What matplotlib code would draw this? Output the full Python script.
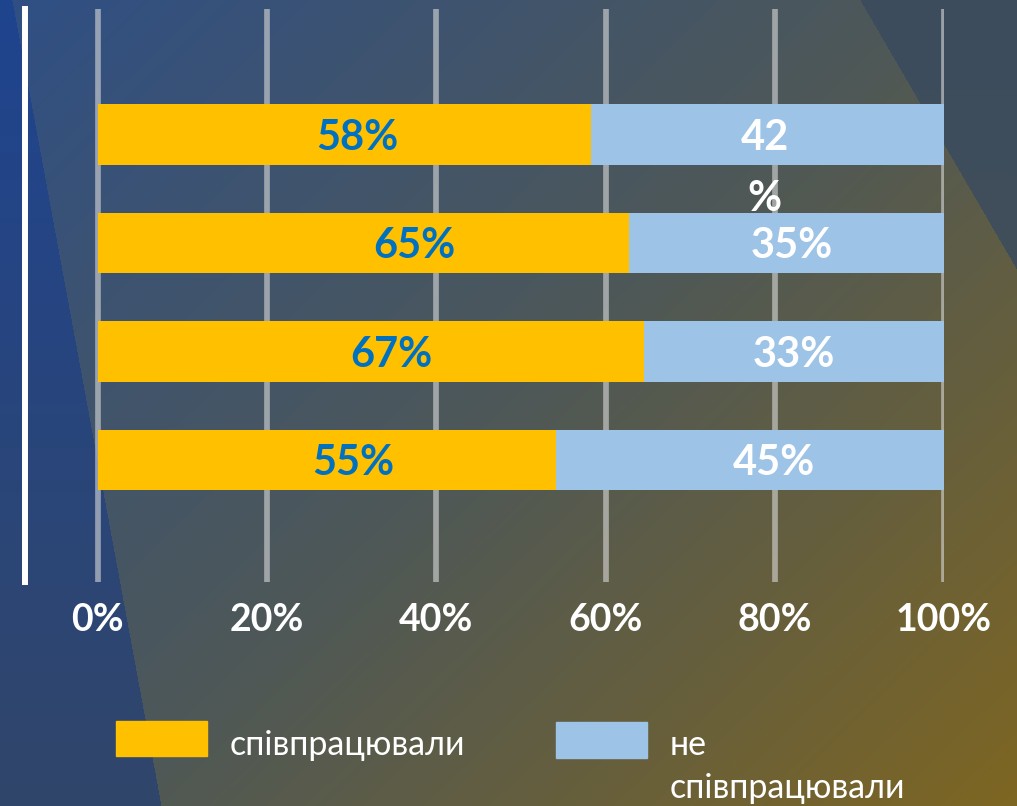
import numpy as np
import matplotlib
matplotlib.use("Agg")
import matplotlib.pyplot as plt
from matplotlib.patches import Rectangle

# ---------------- data ----------------
categories = ["1", "2", "3", "4"]                      # four survey rows (top to bottom)
series_names = ["співпрацювали", "не\nспівпрацювали"]
cooperated = [58.3, 62.8, 64.5, 54.1]                  # bar lengths as drawn (%)
not_cooperated = [41.7, 37.2, 35.5, 45.9]
labels_cooperated = ["58%", "65%", "67%", "55%"]
labels_not = ["42\n%", "35%", "33%", "45%"]
tick_values = [0, 20, 40, 60, 80, 100]
tick_labels = ["0%", "20%", "40%", "60%", "80%", "100%"]

# ---------------- style ----------------
C_ORANGE = "#FFC000"
C_LBLUE = "#9DC3E6"
C_LABEL_BLUE = "#0070C0"
FONT = ["Lato", "Open Sans", "DejaVu Sans"]
# horizontal nudges (px) of the data labels from their segment centres
nudge_left_px = [13, 51, 21, 27]
nudge_right_px = [-3, 5, 0, 24]

W, H = 1017, 806
fig = plt.figure(figsize=(W / 100, H / 100), dpi=100)

# ---------------- background ----------------
yy, xx = np.mgrid[0:H, 0:W].astype(float)
t = np.clip(0.55 * xx / W + 0.45 * yy / H, 0, 1)
def hexrgb(h):
    h = h.lstrip("#")
    return np.array([int(h[i:i + 2], 16) for i in (0, 2, 4)]) / 255.0
c0, c1, c2 = hexrgb("#2F4F85"), hexrgb("#4E5858"), hexrgb("#7E6622")
tt = t[..., None]
img = np.where(tt < 0.5, c0 + (c1 - c0) * (tt / 0.5), c1 + (c2 - c1) * ((tt - 0.5) / 0.5))
ty = (yy / H)[..., None]
left_mask = xx < 12 + 0.185 * yy
left_col = hexrgb("#1F448F") * (1 - ty) + hexrgb("#31466A") * ty
img = np.where(left_mask[..., None], left_col, img)
tr_mask = xx > 860 + (157 / 270) * yy
tr_col = hexrgb("#3C4C5E") * (1 - ty) + hexrgb("#4A5550") * ty
img = np.where(tr_mask[..., None], tr_col, img)

bg = fig.add_axes([0, 0, 1, 1], zorder=-10)
bg.imshow(img, aspect="auto", extent=(0, W, H, 0), interpolation="bilinear")
bg.set_axis_off()

# ---------------- main axes ----------------
x_left_px, x_right_px = 25, 944
y_top_px, y_bot_px = 9, 582
ax = fig.add_axes([x_left_px / W, 1 - y_bot_px / H,
                   (x_right_px - x_left_px) / W, (y_bot_px - y_top_px) / H])
ax.patch.set_alpha(0)

ypos = np.arange(len(categories))
bar_h = 0.558
ax.barh(ypos, cooperated, height=bar_h, color=C_ORANGE, zorder=3)
ax.barh(ypos, not_cooperated, left=cooperated, height=bar_h, color=C_LBLUE, zorder=3)

LINE_STEP_PT = 43.9  # spacing between wrapped label lines
PX2PT = 72 / 100

def put_label(x, y, text, color, nudge_px):
    for k, line in enumerate(text.split("\n")):
        ax.annotate(line, (x, y), xytext=(nudge_px * PX2PT, -k * LINE_STEP_PT),
                    textcoords="offset points", ha="center",
                    va="center_baseline", fontsize=30, fontweight="bold",
                    fontstyle="normal", color=color, family=FONT, zorder=4,
                    annotation_clip=False)

for i in range(len(categories)):
    put_label(cooperated[i] / 2, ypos[i], labels_cooperated[i], C_LABEL_BLUE,
              nudge_left_px[i])
    put_label(cooperated[i] + not_cooperated[i] / 2, ypos[i], labels_not[i],
              "white", nudge_right_px[i])

ax.set_xlim(-8.6, 100)
ax.set_ylim(4.126, -1.155)
ax.set_xticks(tick_values)
ax.set_xticklabels(tick_labels, fontsize=27, fontweight="bold", color="white",
                   family=FONT)
ax.set_yticks([])
ax.tick_params(axis="x", length=0, pad=15)
ax.grid(axis="x", color="#D9D9D9", alpha=0.6, linewidth=4.1, zorder=1)
ax.set_axisbelow(True)
for s in ("top", "right", "bottom"):
    ax.spines[s].set_visible(False)
ax.spines["left"].set_color("white")
ax.spines["left"].set_linewidth(4.3)

# ---------------- legend ----------------
legend_items = [
    (C_ORANGE, series_names[0], (116, 721, 91, 35), (230, 755)),
    (C_LBLUE, series_names[1], (556, 722, 91, 36), (670, 755)),
]
LEG_LINE_PX = 43
for col, name, (px, py, pw, ph), (tx, ty_) in legend_items:
    fig.patches.append(Rectangle((px / W, 1 - (py + ph) / H), pw / W, ph / H,
                                 transform=fig.transFigure, color=col))
    for k, line in enumerate(name.split("\n")):
        fig.text(tx / W, 1 - (ty_ + k * LEG_LINE_PX) / H, line, ha="left",
                 va="baseline", fontsize=24.5, color="white", family=FONT)

fig.savefig("out.png", dpi=100)
